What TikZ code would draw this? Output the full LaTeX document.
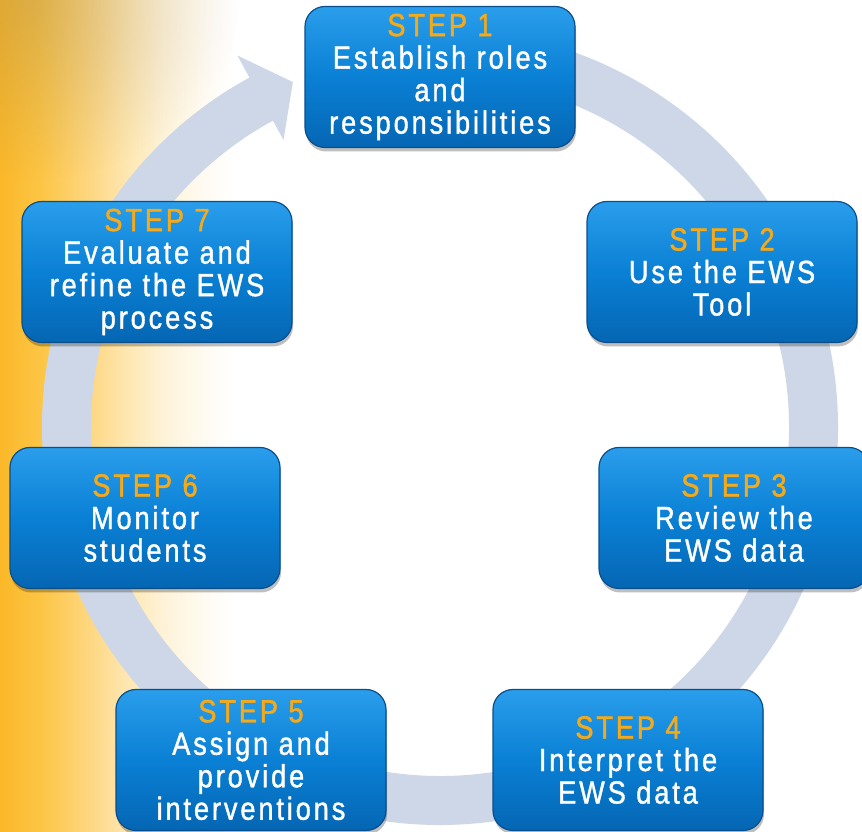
\documentclass[tikz,border=0pt]{standalone}
\usepackage{fontspec}
\setmainfont{Liberation Sans}[FakeStretch=0.85,LetterSpace=9,FakeBold=1.2]
\usetikzlibrary{shadows,fadings}
\definecolor{ringc}{HTML}{CDD7E7}
\definecolor{stepc}{HTML}{F7AA18}
\definecolor{boxtop}{HTML}{2A9EEB}
\definecolor{boxmid}{HTML}{0A80D5}
\definecolor{boxbot}{HTML}{0566B3}
\definecolor{boxedge}{HTML}{0B4E8C}
\definecolor{tint}{HTML}{8C7A5A}
\definecolor{or0}{HTML}{FBB829}
\definecolor{or1}{HTML}{FCC545}
\definecolor{or2}{HTML}{FDD477}
\definecolor{or3}{HTML}{FEE5AC}
\definecolor{or4}{HTML}{FEF3D8}
\definecolor{or5}{HTML}{FFFBF3}
\pgfdeclarehorizontalshading{bgshade}{100bp}{color(0bp)=(or0); color(25bp)=(or0); color(33.7bp)=(or1); color(42.4bp)=(or2); color(51.1bp)=(or3); color(59.8bp)=(or4); color(68.5bp)=(or5); color(75bp)=(white); color(100bp)=(white)}
\tikzfading[name=tlfade, inner color=transparent!72, outer color=transparent!100]
\tikzset{
  stepbox/.style={rounded corners=20pt, minimum width=270pt, minimum height=141pt,
    inner sep=0pt, align=center, text=white,
    top color=boxtop, bottom color=boxbot, middle color=boxmid,
    draw=boxedge, line width=1.2pt,
    font=\fontsize{32pt}{32.5pt}\selectfont,
    drop shadow={shadow xshift=1pt, shadow yshift=-4pt, fill=black, opacity=0.25}}
}
\begin{document}
\begin{tikzpicture}[x=1pt,y=1pt]
\useasboundingbox (0,0) rectangle (862,832);
\clip (0,0) rectangle (862,832);
% background
\fill[white] (0,0) rectangle (862,832);
\shade[shading=bgshade] (0,0) rectangle (235,832);
\fill[tint, path fading=tlfade] (30,832) ellipse [x radius=210, y radius=180];
% ring arrow
\begin{scope}[shift={(440,405)}]
\fill[ringc] (95:398) arc[start angle=95, end angle=-241.4, radius=398]
  -- (-241.4:423) -- (-246.9:375) -- (-241.4:327) -- (-241.4:349)
  arc[start angle=-241.4, end angle=95, radius=349] -- cycle;
\end{scope}
% steps
\node[stepbox] (s1) at (440,755) {{\color{stepc}STEP 1}\\Establish roles\\and\\responsibilities};
\node[stepbox] (s2) at (722,560) {{\color{stepc}STEP 2}\\Use the EWS\\Tool};
\node[stepbox] (s3) at (734,314) {{\color{stepc}STEP 3}\\Review the\\EWS data};
\node[stepbox] (s4) at (628,72) {{\color{stepc}STEP 4}\\Interpret the\\EWS data};
\node[stepbox] (s5) at (251,72) {{\color{stepc}STEP 5}\\Assign and\\provide\\interventions};
\node[stepbox] (s6) at (145,314) {{\color{stepc}STEP 6}\\Monitor\\students};
\node[stepbox] (s7) at (157,560) {{\color{stepc}STEP 7}\\Evaluate and\\refine the EWS\\process};
\end{tikzpicture}
\end{document}
